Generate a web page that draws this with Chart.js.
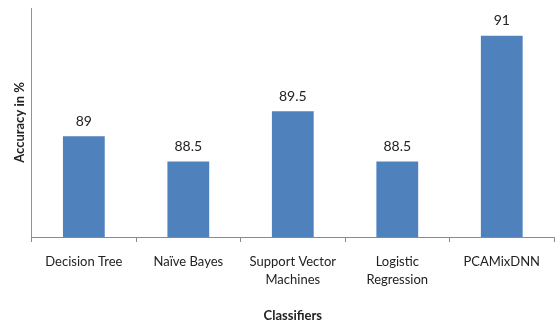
<!DOCTYPE html>
<html>
<head>
<meta charset="utf-8">
<script src="https://cdn.jsdelivr.net/npm/chart.js@4"></script>
<style>
  html, body { margin: 0; padding: 0; background: #fff; }
  #wrap { width: 558px; height: 324px; }
</style>
</head>
<body>
<div id="wrap"><canvas id="chart" width="558" height="324"></canvas></div>
<script>
const classifiers = [
  "Decision Tree",
  "Naïve Bayes",
  ["Support Vector", "Machines"],
  ["Logistic", "Regression"],
  "PCAMixDNN",
];
const accuracy = [89, 88.5, 89.5, 88.5, 91];
const yMin = 87;
const yMax = 91.55;

const barColor = "#4f81bd";
const fontFamily = "Lato, 'Open Sans', sans-serif";

// draws the value above each bar
const valueLabels = {
  id: "valueLabels",
  afterDatasetsDraw(chart) {
    const ctx = chart.ctx;
    const meta = chart.getDatasetMeta(0);
    ctx.save();
    ctx.font = "14px " + fontFamily;
    ctx.fillStyle = "#222";
    ctx.textAlign = "center";
    ctx.textBaseline = "bottom";
    meta.data.forEach((bar, i) => {
      ctx.fillText(String(accuracy[i]), bar.x, bar.y - 8);
    });
    ctx.restore();
  },
};

new Chart(document.getElementById("chart"), {
  type: "bar",
  data: {
    labels: classifiers,
    datasets: [{
      data: accuracy,
      backgroundColor: barColor,
      borderWidth: 0,
      barPercentage: 0.4,
      categoryPercentage: 1,
    }],
  },
  options: {
    responsive: false,
    animation: false,
    layout: { padding: { top: 8, right: 4, left: 12, bottom: 0 } },
    plugins: {
      legend: { display: false },
      tooltip: { enabled: false },
    },
    scales: {
      x: {
        grid: {
          offset: true,
          drawOnChartArea: false,
          drawTicks: true,
          tickLength: 5,
          color: "#8a8a8a",
        },
        border: { color: "#8a8a8a", width: 1 },
        ticks: {
          color: "#222",
          font: { family: fontFamily, size: 13, lineHeight: 1.4 },
          padding: 11,
          maxRotation: 0,
          autoSkip: false,
        },
        title: {
          display: true,
          text: "Classifiers",
          color: "#222",
          font: { family: fontFamily, size: 13, weight: "bold" },
          padding: { top: 8, bottom: 0 },
        },
      },
      y: {
        min: yMin,
        max: yMax,
        grid: { drawOnChartArea: false, drawTicks: false },
        border: { color: "#7f95b5", width: 1 },
        ticks: { display: false },
        title: {
          display: true,
          text: "Accuracy in %",
          color: "#222",
          font: { family: fontFamily, size: 13, weight: "bold" },
          padding: { top: 0, bottom: 4 },
        },
      },
    },
  },
  plugins: [valueLabels],
});
</script>
</body>
</html>
